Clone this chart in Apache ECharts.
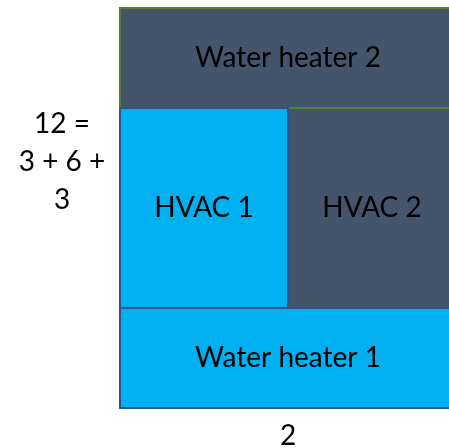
<!DOCTYPE html>
<html>
<head>
<meta charset="utf-8">
<script src="https://cdn.jsdelivr.net/npm/echarts@6/dist/echarts.min.js"></script>
<style>
    html, body { margin: 0; padding: 0; background: #fff; }
    #main { width: 449px; height: 448px; }
</style>
</head>
<body>
<div id="main"></div>
<script>
// blocks in unit space: x from 0 to 2, y from 0 to 12
const blockNames = ['Water heater 1', 'HVAC 1', 'HVAC 2', 'Water heater 2'];
const blockX0 = [0, 0, 1, 0];
const blockX1 = [2, 1, 2, 2];
const blockY0 = [0, 3, 3, 9];
const blockY1 = [3, 9, 9, 12];
const blockKind = ['light', 'light', 'dark', 'dark'];
const widthLabel = '2';
const heightLabel = '12 =\n3 + 6 +\n3';

const fills = { light: '#00B0F0', dark: '#44546A' };
const strokes = { light: '#2F528F', dark: '#548235' };

const data = blockNames.map((n, i) => ({
    name: n,
    value: [blockX0[i], blockY0[i], blockX1[i], blockY1[i]],
    kind: blockKind[i]
}));
// dark ones first so light borders sit on top
const order = data.slice().sort((a, b) => (a.kind === 'dark' ? -1 : 1));

const chart = echarts.init(document.getElementById('main'));
chart.setOption({
    animation: false,
    // height sum written at the left, a bit above the middle
    title: {
        text: heightLabel, left: 62, top: 105, textAlign: 'center', padding: 0,
        textStyle: { fontFamily: 'Lato', fontSize: 28, fontWeight: 'normal', color: '#000', lineHeight: 38 }
    },
    grid: { left: 120, top: 8, width: 336, height: 400, outerBoundsMode: 'none', containLabel: false },
    xAxis: {
        type: 'value', min: 0, max: 2,
        name: widthLabel, nameLocation: 'middle', nameGap: 14,
        nameTextStyle: { fontFamily: 'Lato', fontSize: 28, color: '#000' },
        axisLine: { show: false }, axisTick: { show: false },
        axisLabel: { show: false }, splitLine: { show: false }
    },
    yAxis: {
        type: 'value', min: 0, max: 12,
        axisLine: { show: false }, axisTick: { show: false },
        axisLabel: { show: false }, splitLine: { show: false }
    },
    series: [{
        type: 'custom',
        clip: false,
        data: order,
        renderItem: function (params, api) {
            const d = order[params.dataIndex];
            const tl = api.coord([api.value(0), api.value(3)]);
            const br = api.coord([api.value(2), api.value(1)]);
            return {
                type: 'rect',
                shape: { x: tl[0], y: tl[1], width: br[0] - tl[0], height: br[1] - tl[1] },
                style: { fill: fills[d.kind], stroke: strokes[d.kind], lineWidth: 2 },
                textContent: {
                    style: { text: d.name, fontFamily: 'Lato', fontSize: 28, fill: '#000' }
                },
                textConfig: { position: 'inside' }
            };
        }
    }]
});
</script>
</body>
</html>
